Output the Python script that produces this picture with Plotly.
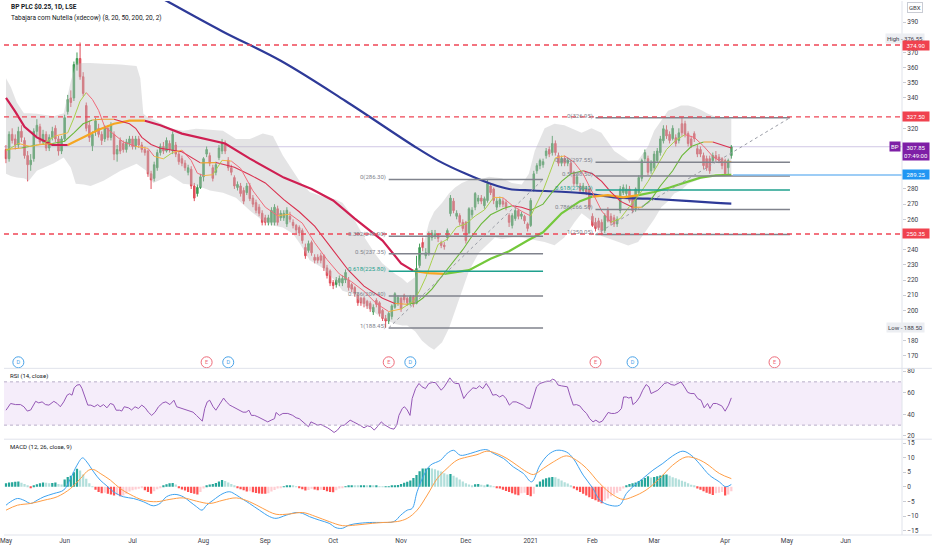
import pandas as pd
import plotly.graph_objects as go

# ---------------- calendar ----------------
uk_holidays = ["2020-05-08", "2020-05-25", "2020-08-31", "2020-12-25", "2020-12-28",
               "2021-01-01", "2021-04-02", "2021-04-05", "2021-05-03", "2021-05-31"]
trading_days = [d for d in pd.bdate_range("2020-05-01", "2021-06-30")
                if d.strftime("%Y-%m-%d") not in uk_holidays]
n_bars = 236
bar_x = list(range(n_bars))
day_pos = {d.strftime("%Y-%m-%d"): i for i, d in enumerate(trading_days)}

# ---------------- price data (GBX) ----------------
opens = [306, 300, 316, 313, 309, 318, 312, 302, 296, 300,
         318, 321, 311, 316, 307, 314, 320, 313, 305, 313,
         331, 340, 340, 362, 366, 354, 335, 322, 308.5, 318,
         320, 316, 313, 320, 314, 316, 303, 312, 310, 306,
         310, 313, 308, 313, 309, 306, 305, 290, 287, 294,
         304, 308, 305, 310, 305, 309, 303, 300, 297, 291,
         293, 282, 277, 281, 288, 303, 302, 294, 291, 300.7,
         305, 310, 299, 294, 287.5, 281, 282, 279, 277.6, 282,
         274, 271, 268, 264, 261, 258, 258, 258, 267, 261,
         261, 257, 262, 258, 256, 254.6, 252.6, 241.5, 239.5, 244.7,
         235, 235, 236, 236, 228, 226, 218.4, 217, 218.4, 218,
         220, 220, 217, 215, 210, 208, 208, 206, 204.6, 199,
         206.6, 205, 200, 194.7, 193, 196, 202, 205, 208, 210,
         208, 205, 209, 204.6, 229.6, 244.7, 236, 237.5, 248, 249,
         250, 244.7, 243, 248, 263.8, 272, 262, 262.5, 258, 258,
         251, 263, 268, 272, 274, 269, 272.4, 282, 280, 268,
         270, 272, 271, 262.5, 256, 260.5, 265.8, 262, 262, 257,
         256, 280, 292, 295.4, 296, 302, 306, 304, 310, 302,
         297, 300, 297, 297, 291, 283.5, 282, 279, 280, 280,
         262, 258, 259, 258, 252.6, 265.8, 262, 261, 257, 265.8,
         277.6, 277, 280, 274, 267, 277.6, 287, 300, 300, 292,
         294, 298.7, 304, 311.8, 319, 316, 313.2, 313.8, 312, 323,
         323, 316.5, 313, 316.5, 306.6, 306, 302, 300, 300, 298.7,
         302, 301, 300, 298.7, 294, 302]
highs = [309, 318, 320, 316, 321, 322, 314, 305, 303, 320,
         326, 323, 319, 318, 316, 321, 322, 315, 315, 329,
         342, 345, 364, 370, 376.55, 357, 337, 325, 318, 327,
         323, 318, 322, 322, 324, 318, 309, 314, 312, 313,
         315, 315, 315, 315, 311, 308, 306, 292, 298, 306,
         310, 311, 314, 312, 318, 311, 305, 302, 299, 296,
         295, 284, 283, 290, 301, 308, 304, 296, 298, 309,
         313, 312, 301, 296, 289, 285, 284, 281, 284, 284,
         276, 273, 270, 266, 263, 263, 268, 270, 269, 266,
         266, 268, 265, 260, 257, 256, 254, 244, 246, 246,
         237, 237, 238, 237, 230, 227, 220, 222, 223, 223,
         227, 222, 218, 216, 211, 209, 209, 207, 206, 204,
         208, 206, 201, 197, 199, 204, 212, 210, 209, 211,
         209, 210, 210, 236, 244, 248, 241, 252, 253, 253,
         251, 246, 245, 254, 276, 274, 266, 264, 260, 259,
         268, 268, 278, 276, 276, 275, 286.3, 284, 281, 274,
         275, 274, 273, 264, 264, 268, 267, 265, 263, 258,
         274, 292, 297, 300, 300, 307, 308, 315, 312, 304,
         302, 302, 301, 299, 292, 290, 284, 284, 282, 281,
         264, 261, 261, 260, 264, 268, 264, 263, 262, 282,
         283, 283, 282, 276, 281, 289, 300, 306, 302, 299,
         305, 307, 315, 322, 322, 318, 322, 316, 320, 326.95,
         325, 318, 315, 318, 309, 308, 304, 302, 302, 304,
         305, 303, 301, 300, 300, 309]
lows = [297, 298, 310, 306, 307, 311, 300, 285, 292, 298,
        315, 309, 309, 305, 305, 312, 311, 302, 303, 311,
        329, 334, 338, 358, 352, 341, 318, 311, 305, 315,
        314, 309, 311, 312, 312, 299, 298, 303, 304, 304,
        308, 306, 306, 307, 304, 302, 288, 280, 285, 292,
        302, 303, 304, 304, 303, 301, 296, 295, 292, 289,
        280, 272, 275, 280, 285, 301, 295, 285, 289, 299,
        303, 303, 292, 289, 280, 279, 275, 270, 276, 272,
        268, 264, 262, 256, 256, 256, 256, 256, 256, 259,
        259, 255, 258, 254, 251, 249, 244, 234, 238, 236,
        231, 231, 231, 226, 221, 216, 214, 215, 216, 216,
        218, 213, 212, 209, 203, 203, 202, 201, 199, 197,
        202, 196, 193, 188.5, 191, 194, 201, 203, 199, 205,
        203, 203, 202, 204, 228, 239, 234, 236, 246, 247,
        245, 241, 240, 246, 262, 264, 260, 256, 252, 244,
        250, 261, 266, 270, 270, 267, 271, 276, 270, 266,
        268, 268, 266, 255, 254, 259, 260, 260, 257, 252,
        255, 278, 290, 293, 294, 300, 301, 302, 302, 295,
        295, 295, 295, 290, 282, 282, 277, 277, 276, 266,
        255, 252, 253, 250.05, 251, 258, 256, 255, 255, 264,
        276, 275, 271, 264, 265, 276, 285, 298, 289, 290,
        292, 297, 302, 310, 313, 310, 312, 308, 310, 315,
        314, 308, 307, 311, 301, 301, 293, 292, 290, 297,
        298, 297, 293, 289, 289.3, 300]
closes = [300, 316, 312, 309, 318, 314, 302, 296, 299, 318,
          322, 311, 316, 307, 314, 318, 313, 305, 313, 327,
          339, 337, 362, 366, 354, 343, 320, 314, 316, 325,
          316, 312, 320, 314, 322, 303, 306, 305, 306, 311,
          313, 308, 313, 309, 306, 304, 290, 286, 296, 304,
          308, 305, 312, 306, 316, 303, 298, 297, 294, 294,
          282, 274, 281, 288, 300, 306, 297, 287, 296, 307,
          310, 305, 294, 291, 282, 283, 277, 272, 282, 273.6,
          270, 266, 264, 258, 258, 261, 266, 268, 258, 264,
          264, 266, 260, 256, 253, 251, 246, 236, 244, 238,
          233, 233, 233, 228, 223, 218, 216.4, 220, 221, 221,
          225, 215, 214, 211, 205, 205, 204.6, 203, 201, 202,
          204, 198, 194.7, 193, 198, 203, 211, 208.5, 201, 207,
          205, 209, 204, 227.6, 241.4, 241.4, 238, 250.6, 251, 250.5,
          247.5, 242.8, 242, 252.6, 274, 265.8, 264, 258, 254, 246,
          267, 266, 277, 274, 272, 273.6, 283.5, 277.6, 272.4, 272,
          273, 270, 268, 258, 262.5, 265.8, 262, 263.5, 259, 254,
          272.4, 290, 295.4, 298.7, 298, 305, 303, 310, 304, 297,
          300, 297, 299, 291, 283.5, 288, 279, 282, 278, 268,
          256, 254, 254.6, 252.6, 262.5, 259, 258, 257, 260, 280,
          281, 280, 272.4, 265.8, 280, 287.5, 298.7, 304, 291, 297,
          303, 305, 313, 319.7, 315, 312, 320, 310, 317, 317,
          316, 310, 308.6, 313.2, 303, 303, 295.4, 294, 292, 302,
          300, 299, 295.4, 290, 298.7, 307.85]

# ---------------- indicator readings (from the picture) ----------------
bb_x = [0, 1.6, 3.5, 5.8, 7.4, 10, 15.5, 18.7, 21, 22.6, 25.2, 27.4, 31.6, 37.1, 42.3, 43.5, 44.5, 45.5, 47.7, 53.2,
        57.4, 61.6, 66.1, 70.3, 74.5, 79, 83.2, 86.5, 89.7, 92.9, 95.2, 98.4, 102.6, 106.8, 109, 112.3, 115.5, 119.7, 121.9, 126.1,
        128.4, 130, 132.6, 134.8, 137.1, 138.7, 141.3, 143.5, 145.5, 147.7, 150, 153.2, 156.5, 158.4, 160.6, 163.9, 167.1, 169.4, 171.3, 174.5,
        177.7, 180.9, 184.2, 186.5, 189.7, 192.9, 197.1, 201.6, 204.8, 208, 210, 212.3, 214.5, 216.5, 218.7, 221, 222.9, 225.2, 227.4, 229.4,
        231.6, 233.9, 235]
bb_upper = [353, 347, 337, 330, 330, 329.6, 328, 330, 351, 362.5, 363, 363, 362.5, 362, 361, 353, 329.6, 328, 326, 320,
            318.4, 319.7, 319, 318.4, 313, 313, 316.5, 315, 302, 292, 285, 278, 275, 273, 271, 262, 250, 237, 231, 224,
            221, 218, 222, 240, 258, 265, 271, 277, 281, 284, 286, 286, 288, 287.5, 287, 284, 283, 290, 305, 320,
            323, 322, 319, 317, 320, 317, 305, 298.7, 299, 308, 318.4, 325, 331.6, 333, 335, 335, 334, 332, 329.6, 328,
            327, 327, 326]
bb_lower = [290, 288.5, 287.5, 287, 285.5, 292, 297, 300.7, 294, 283.5, 283, 282, 285.5, 292, 296.7, 295, 294, 292, 284, 289,
            283.5, 282.5, 279, 277.6, 274.3, 265.8, 259, 256, 254.6, 250.6, 244, 233, 228, 219, 213, 211, 204, 198, 195, 191,
            190, 190, 186, 180, 176, 174, 179, 188, 200, 213, 226, 238, 244, 248, 247, 248, 248, 247, 246, 245,
            243, 248, 258, 264, 259, 249, 246, 242.8, 245, 254.6, 260, 268, 272, 277, 279, 283.5, 285, 286.8, 288, 290,
            290, 289, 288]

ma8_x = [0, 4, 8, 12, 16, 20, 22, 24, 26, 28, 30, 32, 35, 38, 42, 46, 48, 51, 54, 57, 60, 62, 64, 67, 70, 73, 76, 80, 84, 88,
         92, 96, 100, 104, 108, 112, 116, 120, 124, 128, 132, 134, 136, 138, 140, 143, 146, 149, 152, 155, 158, 161, 164, 167, 170,
         172, 174, 176, 178, 181, 184, 187, 190, 193, 196, 199, 202, 205, 208, 211, 214, 217, 220, 223, 226, 229, 232, 235]
ma8_y = [305, 310, 308, 309.8, 315, 317, 326.8, 337.9, 343.5, 339, 331.8, 320.8, 316, 311, 308.1, 306.8, 301.5, 299.9, 304.1, 305.6,
         298.8, 290.4, 288.8, 289.4, 298.9, 298.4, 293.6, 278.8, 268, 262.4, 263.4, 257.5, 244.6, 233.5, 224, 218.8, 212.6, 204.5, 199.2, 200.9,
         206.1, 212.9, 221.7, 232.9, 243.5, 246.9, 254.9, 257, 262.2, 266.2, 274.5, 274.3, 269.2, 265.4, 262.2, 270.3, 278.9, 289.6, 300.5, 301.8,
         297.7, 289.9, 278.2, 265.5, 258.1, 260.5, 268.4, 275.8, 284.9, 295.8, 306, 312.2, 315.8, 314, 308.3, 301.4, 297.6, 298.1]

ma20_x = [0, 5, 10, 15, 19, 22, 25, 28, 31, 35, 40, 42, 44, 47, 50, 57, 63, 68, 74, 79, 84, 90, 95, 100, 106, 111, 116, 122, 126, 130,
          133, 135, 138, 141, 145, 148, 151, 154, 157, 161, 164, 167, 170, 174, 177, 180, 183, 187, 190, 193, 196, 199, 203, 206, 209,
          212, 216, 219, 222, 226, 229, 232, 235]
ma20_y = [306, 307, 309, 310, 311.5, 317, 323, 325.5, 326, 326, 323, 320, 314, 309.3, 306.8, 304.6, 297.2, 297.4, 294.3, 289.4,
          284, 273, 265, 255.5, 239.5, 226.3, 216, 208, 204.5, 204, 205, 208, 214, 222, 232, 240, 249, 257, 263, 267,
          269, 268, 266, 270, 278, 285, 290, 292, 290, 285, 278, 272, 268, 268, 273, 282, 292, 302, 308, 311, 311, 309, 307]

ma50_x = [0, 3, 6, 10, 15, 20, 25, 30, 35, 40, 45, 50, 57, 64, 71, 79, 90, 99, 106, 113, 122, 128, 132, 137, 142,
          150, 157, 163, 169, 174, 180, 186, 190, 195, 200, 205, 210, 215, 220, 225, 230, 235]
ma50_y = [340, 331, 321, 314, 309, 309, 314, 319, 323, 325, 325, 322, 316.5, 313.5, 310, 300, 287.5, 280, 272.4, 260.5, 246, 231, 226, 224.5, 224,
          226.5, 234, 239, 246, 251.5, 264, 272, 275, 276, 274.5, 276, 278, 281, 284.5, 287.5, 289, 289.3]

ma200_x = [45, 52, 70, 89, 110, 132, 140, 149, 157, 163, 171, 187, 197, 208, 219, 229, 235]
ma200_y = [412, 404, 384, 364.5, 338, 308.5, 298.7, 290, 283.5, 280, 279, 277.3, 274.5, 273.6, 272.4, 271, 270.4]

rsi_x = [0, 1.5, 3.1, 4.7, 5.8, 6.9, 8, 9.6, 10.6, 11.7, 12.8, 13.9, 15.5, 16.6, 17.6, 18.7, 19.8, 20.6, 21.4, 22.1,
         23, 23.9, 24.6, 25.7, 26.5, 27.5, 28.6, 29.7, 30.5, 31.6, 32.7, 33.8, 34.8, 35.7, 36.8, 37.5, 38.3, 39.7, 40.7, 41.8,
         42.9, 44, 45.1, 46.1, 47.2, 48.3, 49.4, 50.8, 51.8, 53.1, 54.4, 55.3, 56.3, 57.4, 58.5, 59.6, 60.6, 61.7, 62.8, 63.6,
         64.4, 65.2, 66, 67.1, 68, 69, 69.8, 70.5, 71.4, 72.5, 73.5, 74.6, 75.7, 76.8, 77.8, 78.7, 79.5, 80.5, 81.6, 82.7,
         83.8, 84.8, 85.9, 87, 87.5, 88.6, 89.7, 91.3, 92.9, 94, 95, 96.1, 97.2, 98, 98.8, 99.9, 101, 102, 103.1, 104.2,
         105.3, 106.3, 107.4, 108.5, 109.6, 110.6, 111.5, 112.6, 113.7, 115, 116, 117.1, 118.2, 119.3, 120.3, 121.6, 122.5, 123.6, 124.6, 125.7,
         126.6, 127.3, 128.4, 129.1, 130, 130.9, 131.6, 132.7, 133.8, 134.8, 135.9, 137, 138.1, 139.1, 140.2, 141, 142, 142.9, 143.8, 144.8,
         145.6, 146.7, 147.4, 148.3, 149.4, 150.4, 151.3, 152.4, 153.4, 154.5, 155.6, 156.7, 157.7, 158.8, 159.9, 161, 162, 163.1, 164.2, 165.3,
         166.3, 167.6, 168.7, 169.8, 170.9, 171.9, 173, 174.1, 175.2, 176.2, 177.1, 177.9, 178.9, 180, 181.1, 181.9, 182.7, 183.8, 184.8, 185.9,
         187, 188.1, 189.1, 190.2, 191.1, 192.2, 193.2, 194.3, 195.1, 196.1, 197.2, 198.3, 199.4, 200.1, 201, 201.8, 202.6, 203.1, 204.2, 205.3,
         206.3, 207.4, 208.3, 209, 210.1, 211.2, 212.3, 213.3, 214.4, 215.5, 216.6, 217.6, 218.7, 219.8, 220.9, 221.9, 223, 224.1, 225.2, 226.2,
         227.3, 228.1, 229.1, 230.2, 231.1, 231.9, 233, 234.1, 235]
rsi_y = [43.8, 50, 49, 49, 47, 43, 44, 52, 50.6, 51.5, 49, 48.5, 52, 50, 47, 51.5, 57.7, 59, 57.7, 64.5,
         67, 67.5, 64, 56, 48.5, 48.5, 47, 49, 47, 49, 46, 50, 49, 43.8, 43.8, 43, 47, 46, 44, 47,
         45.4, 48.5, 46, 42, 39, 42, 47, 50.6, 51.5, 49, 53, 47, 46, 44.8, 44, 43, 42, 39, 36, 33.7,
         45.4, 51.5, 53, 47, 43.8, 48.5, 53, 55, 51.5, 48.5, 47, 45.4, 43.8, 42, 42, 43.8, 39, 39, 37.7, 36,
         34.6, 33, 34.6, 36, 41.7, 39, 40.8, 40.8, 39, 36.8, 36, 33, 30, 28.5, 33, 31.5, 30, 30.6, 29.4, 27.5,
         25.4, 23.2, 25.4, 29.4, 30, 32.5, 34.6, 33, 31.5, 29.4, 27.5, 29.4, 28.5, 25.4, 28.5, 33, 30.6, 28.5, 27, 26.3,
         30, 39, 45.4, 47, 44, 39, 54.6, 63.8, 68.5, 65.4, 63.8, 68.5, 69.4, 69.4, 65.4, 62.3, 65.4, 70, 73.7, 70,
         68.5, 68.5, 62.3, 54.6, 59.2, 62.3, 64.5, 63.8, 66.3, 63.8, 68.5, 63.8, 57.7, 58.3, 56, 57.7, 54.6, 48.5, 51.5, 51.5,
         50, 48.5, 46, 45.4, 56, 65.4, 68.5, 69.4, 70.6, 70.6, 72.5, 71.5, 67, 66.3, 65.4, 65.4, 57.7, 48.5, 49, 47.8,
         43.8, 40.8, 36, 33, 34.6, 32.5, 33.7, 39, 41.7, 40.8, 40.8, 42, 45.4, 56, 56, 55, 56, 49, 51.5, 56,
         62.3, 67.5, 65.4, 59.2, 60.8, 62.3, 65.4, 68.5, 69.4, 67.5, 66.9, 68.5, 70, 65.4, 60.2, 59.2, 59.2, 54.6, 53, 46,
         50, 45.4, 50, 50, 48.5, 47.8, 42.9, 48.5, 55.2]

macd_x = [0, 1.5, 3.7, 5.8, 8, 10.1, 12.3, 15.5, 18.7, 20.9, 23, 24.8, 26.2, 28.4, 30.5, 32.7, 34.8, 38, 41.3, 44.5,
          47.7, 49.9, 52, 54.7, 57.4, 59.6, 61.7, 63.5, 65, 67.1, 70.3, 72.5, 74.6, 76.8, 78.9, 82.1, 85.4, 87.5, 90.8, 94,
          96.1, 98.3, 101.5, 104.7, 106.9, 109, 111.2, 114.4, 118.7, 121.4, 125.7, 127.9, 130, 131.6, 133.2, 135.4, 137.5, 140.8, 142.9, 145,
          147.2, 150.4, 153.7, 155.8, 158, 161.2, 164.4, 167.6, 170.3, 173, 175.7, 178.4, 181.6, 183.8, 187, 190.2, 192.4, 195.6, 198.8, 201,
          203.1, 206.3, 209.6, 212.8, 216, 219.3, 222, 224.6, 227.9, 231.1, 233.2, 235]
macd_y = [-6.3, -5.1, -4, -4.6, -5.7, -4.6, -3.4, -2.3, -1.1, 2.8, 7.4, 9.9, 8.5, 5.1, 2.3, 0.3, -1.7, -3.4, -4, -5.1,
          -6.5, -5.7, -3.4, -2.6, -3.4, -5.1, -6.8, -8, -6.3, -4.6, -2.3, -1.7, -2.8, -4.3, -5.7, -8, -10.2, -10.8, -9.7, -8.8,
          -9.1, -10.2, -11.4, -12.5, -14, -14.2, -13.1, -12.5, -12.2, -12.2, -11.9, -9.7, -8, -7.4, -1.7, 4, 7.4, 9.1, 11.4, 12.5,
          10.8, 11.4, 12.5, 12.7, 11.4, 9.7, 6.8, 4.6, 1.7, 7.4, 11, 12.5, 11.9, 9.7, 4, -0.6, -4.6, -6.3, -6.3, -2.3,
          0, 2.8, 5.7, 8, 10.6, 12.2, 10.8, 8, 4, 1.7, 0, 0.8]
signal_x = [0, 3.7, 8, 12.3, 16.6, 20.9, 24.1, 26.8, 28.4, 30.5, 33.8, 37, 40.2, 44.5, 48.8, 53.1, 57.4, 61.7, 66, 70.3,
            74.6, 78.9, 83.2, 87.5, 91.8, 96.1, 100.4, 104.7, 109, 113.3, 118.7, 122.5, 126.8, 130, 133.2, 136.5, 139.7, 142.9, 146.1, 149.4,
            152.6, 155.8, 159, 162.3, 165.5, 168.7, 170.9, 174.1, 177.3, 181.6, 184.8, 188.1, 192.4, 196.7, 199.9, 203.1, 207.4, 211.7, 216, 220.3,
            223.5, 226.8, 231.1, 235]
signal_y = [-8, -6.3, -5.7, -4.6, -3.4, -0.6, 2.8, 5.7, 5.9, 4.6, 2.3, -0.6, -2.6, -4.6, -5.1, -4.3, -3.8, -4.9, -5.7, -4.6,
            -3.8, -5.1, -7.4, -9.4, -9.3, -8.8, -10.2, -11.9, -13.3, -13.1, -12.5, -12.2, -11.9, -10.8, -8, -2.8, 2.8, 6.3, 9.1, 10.2,
            11, 12.2, 11.4, 9.7, 7.4, 5.1, 4.2, 6.3, 8.5, 10.6, 9.1, 6.3, 1.1, -2.8, -4.3, -3.4, -1.1, 2.8, 7.4, 10.2,
            9.7, 8, 4.6, 2.8]
macd_hist = [1.2, 1.5, 1.6, 1.7, 1.8, 1.4, 1.0, 0.3, -0.3, 0.5,
             0.9, 1.2, 1.5, 1.4, 1.2, 1.3, 1.5, 1.0, 0.8, 2.5,
             3.4, 3.8, 5.0, 6.2, 5.6, 4.2, 2.8, 1.2, 0.2, -1.0,
             -1.8, -2.2, -2.0, -2.4, -2.6, -3.0, -2.6, -3.2, -3.0, -2.4,
             -1.6, -1.2, -0.9, -0.7, -0.5, -1.2, -1.8, -2.4, -1.5, -0.8,
             -0.2, 0.5, 0.9, 1.2, 1.3, 0.8, -0.5, -0.9, -1.3, -1.8,
             -2.1, -2.4, -2.6, -1.8, -0.6, 0.4, 0.8, 1.0, 1.3, 1.8,
             2.3, 2.0, 1.5, 1.0, 0.5, -0.4, -0.8, -1.2, -1.6, -1.5,
             -1.9, -2.1, -2.3, -2.4, -2.4, -2.2, -1.6, -1.1, -0.6, -0.2,
             0.2, 0.4, 0.4, 0.3, 0.1, -0.3, -0.8, -1.3, -1.1, -0.7,
             -0.9, -1.2, -1.0, -1.1, -1.5, -1.8, -1.9, -1.2, -0.6, -0.3,
             0.2, 0.4, 0.5, 0.4, 0.3, 0.4, 0.4, 0.3, 0.4, 0.3,
             0.3, 0.2, 0.1, 0.1, 0.2, 0.3, 0.3, 0.6, 1.0, 1.4,
             1.7, 2.2, 3.0, 4.0, 5.3, 6.3, 6.3, 6.5, 6.3, 6.0,
             5.6, 5.2, 4.6, 4.2, 4.4, 3.8, 3.2, 2.5, 1.8, 1.2,
             0.8, 0.5, 0.9, 1.0, 0.7, 0.5, 0.8, 0.5, 0.2, -0.3,
             -0.6, -1.0, -1.4, -1.8, -2.2, -2.6, -2.9, -2.2, -2.0, -2.8,
             -3.2, -2.4, 0.8, 1.8, 2.5, 2.9, 3.2, 3.4, 3.3, 2.8,
             2.2, 1.6, 1.1, 0.5, -0.6, -1.2, -1.8, -2.4, -3.0, -3.6,
             -4.2, -4.6, -5.1, -5.6, -4.8, -4.0, -3.2, -2.6, -2.0, -1.4,
             -0.6, 0.5, 1.0, 1.2, 1.5, 2.0, 2.5, 3.0, 3.6, 3.2,
             3.4, 3.6, 3.9, 4.1, 4.2, 3.8, 3.3, 2.9, 2.5, 2.1,
             1.7, 1.2, 0.7, 0.3, -0.6, -1.0, -1.5, -2.0, -2.4, -2.8,
             -2.2, -2.0, -1.8, -3.0, -2.6, -1.5]

# ---------------- drawings / markers ----------------
event_dates = ["2020-05-07", "2020-08-04", "2020-08-13", "2020-10-27",
               "2020-11-05", "2021-02-02", "2021-02-18", "2021-04-27"]
event_kinds = ["D", "E", "D", "E", "D", "E", "D", "E"]
hline_prices = [374.90, 327.50, 250.35]
last_price = 307.85
countdown = "07:49:00"
blue_line_price = 289.25
session_high = 376.55
session_low = 188.50
fib_ratios = ["0", "0.382", "0.5", "0.618", "0.786", "1"]
fib1_prices = [286.30, 248.90, 237.35, 225.80, 209.40, 188.45]
fib2_prices = [326.95, 297.55, 288.50, 279.40, 266.50, 250.05]
price_ticks = [170, 180, 200, 210, 220, 230, 240, 260, 270, 280, 320, 340, 350, 360, 370, 390]

# ---------------- style ----------------
FONT = "Roboto, Arial, sans-serif"
UP, DOWN = "#3f9b55", "#df4f5b"
GREY_FIB, TEAL_FIB = "#80838d", "#1fa08e"
RED_LINE = "#ef4656"
X_RANGE = [-0.65, 290.3]
PRICE_RANGE = [161.8, 403.9]
D_PRICE = [0.3121, 1.0]
D_RSI = [0.1794, 0.3121]
D_MACD = [0.0, 0.1794]
fib1_span = [124, 174]
fib2_span = [191, 254]

fig = go.Figure()

# Bollinger band fill
fig.add_trace(go.Scatter(x=bb_x, y=bb_upper, mode="lines", line=dict(width=0, color="rgba(0,0,0,0)"),
                         hoverinfo="skip", yaxis="y"))
fig.add_trace(go.Scatter(x=bb_x, y=bb_lower, mode="lines", line=dict(width=0, color="rgba(0,0,0,0)"),
                         fill="tonexty", fillcolor="rgba(190,190,194,0.42)", hoverinfo="skip", yaxis="y"))

# candles
fig.add_trace(go.Candlestick(x=bar_x, open=opens, high=highs, low=lows, close=closes,
                             increasing=dict(line=dict(color=UP, width=1), fillcolor=UP),
                             decreasing=dict(line=dict(color=DOWN, width=1), fillcolor=DOWN),
                             whiskerwidth=0, hoverinfo="skip", yaxis="y"))


def add_runs(xs, ys, color_of, width):
    runs = []
    for i in range(1, len(xs)):
        c = color_of(xs[i - 1], ys[i - 1], xs[i], ys[i])
        if runs and runs[-1][0] == c:
            runs[-1][1].append(xs[i])
            runs[-1][2].append(ys[i])
        else:
            runs.append([c, [xs[i - 1], xs[i]], [ys[i - 1], ys[i]]])
    for c, rx, ry in runs:
        fig.add_trace(go.Scatter(x=rx, y=ry, mode="lines", line=dict(color=c, width=width),
                                 hoverinfo="skip", yaxis="y"))


def slope_colors(up, down, flat, thr):
    def f(x0, y0, x1, y1):
        s = (y1 - y0) / (x1 - x0)
        if s > thr:
            return up
        if s < -thr:
            return down
        return flat
    return f


# MA200
fig.add_trace(go.Scatter(x=ma200_x, y=ma200_y, mode="lines", line=dict(color="#2e3a98", width=2.2, shape="spline"),
                         hoverinfo="skip", yaxis="y"))

# MA50 (thick, coloured by trend phase)
ma50_phases = [(0, 20, "#cf1f52"), (20, 45, "#f5a623"), (45, 132, "#cf1f52"), (132, 142, "#f5a623"),
               (142, 190, "#74c83b"), (190, 205, "#f5a623"), (205, 999, "#74c83b")]


def ma50_color(x0, y0, x1, y1):
    m = (x0 + x1) / 2
    for a, b, c in ma50_phases:
        if a <= m < b:
            return c
    return "#74c83b"


add_runs(ma50_x, ma50_y, ma50_color, 2.2)
add_runs(ma20_x, ma20_y, slope_colors("#6cb83a", "#d9304f", "#f0a030", 0.25), 1.1)
add_runs(ma8_x, ma8_y, slope_colors("#a8cf4c", "#f06a7a", "#f5b342", 0.6), 1)

# fibonacci retracements
for span, prices in ((fib1_span, fib1_prices), (fib2_span, fib2_prices)):
    for r, p in zip(fib_ratios, prices):
        col = TEAL_FIB if r == "0.618" else GREY_FIB
        fig.add_trace(go.Scatter(x=span, y=[p, p], mode="lines", line=dict(color=col, width=1.5),
                                 hoverinfo="skip", yaxis="y"))
    fig.add_trace(go.Scatter(x=span, y=[prices[-1], prices[0]], mode="lines",
                             line=dict(color="#9a9da6", width=1, dash="dot"), hoverinfo="skip", yaxis="y"))

# events row
ev_x = [day_pos[d] for d in event_dates]
ev_col = ["#4aa3e8" if k == "D" else "#ee6b7a" for k in event_kinds]
fig.add_trace(go.Scatter(x=ev_x, y=[165.8] * len(ev_x), mode="markers+text", text=event_kinds,
                         textposition="middle center", textfont=dict(size=5.5, color=ev_col, family=FONT),
                         marker=dict(size=11, color="white", line=dict(color=ev_col, width=1)),
                         cliponaxis=False, hoverinfo="skip", yaxis="y"))

# RSI
fig.add_trace(go.Scatter(x=rsi_x, y=rsi_y, mode="lines", line=dict(color="#9457b5", width=1),
                         hoverinfo="skip", yaxis="y2"))

# MACD
hist_colors = []
for i, v in enumerate(macd_hist):
    prev = macd_hist[i - 1] if i > 0 else v
    if v >= 0:
        hist_colors.append("#26a69a" if v >= prev else "#b2dfdb")
    else:
        hist_colors.append("#ff5252" if v <= prev else "#ffcdd2")
fig.add_trace(go.Bar(x=bar_x, y=macd_hist, marker=dict(color=hist_colors, line=dict(width=0)), width=0.72,
                     hoverinfo="skip", yaxis="y3"))
fig.add_trace(go.Scatter(x=macd_x, y=macd_y, mode="lines", line=dict(color="#3ea2ef", width=1, shape="spline"),
                         hoverinfo="skip", yaxis="y3"))
fig.add_trace(go.Scatter(x=signal_x, y=signal_y, mode="lines", line=dict(color="#ff9d45", width=1, shape="spline"),
                         hoverinfo="skip", yaxis="y3"))

# ---------------- shapes ----------------
shapes = []
for p in hline_prices:
    shapes.append(dict(type="line", xref="paper", x0=0, x1=1, yref="y", y0=p, y1=p,
                       line=dict(color=RED_LINE, width=1.3, dash="5px,4px")))
shapes.append(dict(type="line", xref="paper", x0=0, x1=1, yref="y", y0=last_price, y1=last_price,
                   line=dict(color="rgba(150,130,200,0.45)", width=1), layer="below"))
shapes.append(dict(type="line", xref="x", x0=n_bars - 0.5, x1=X_RANGE[1], yref="y", y0=blue_line_price,
                   y1=blue_line_price, line=dict(color="#7cbcf3", width=1.5)))
# RSI band
shapes.append(dict(type="rect", xref="paper", x0=0, x1=1, yref="y2", y0=30, y1=70,
                   fillcolor="rgba(156,80,210,0.10)", line=dict(width=0), layer="below"))
for lvl in (30, 70):
    shapes.append(dict(type="line", xref="paper", x0=0, x1=1, yref="y2", y0=lvl, y1=lvl,
                       line=dict(color="#b9aec9", width=1, dash="dot")))
# panel separators
for yy in (D_RSI[1], D_MACD[1], 0):
    shapes.append(dict(type="line", xref="paper", x0=0, x1=932 / 902, yref="paper", y0=yy, y1=yy,
                       line=dict(color="#e0e3eb", width=1)))
shapes.append(dict(type="line", xref="paper", x0=1, x1=1, yref="paper", y0=0, y1=1,
                   line=dict(color="#e0e3eb", width=1)))

# ---------------- annotations ----------------
ann = []
ann.append(dict(xref="paper", yref="paper", x=5 / 902, y=1 - 6 / 535, xanchor="left", yanchor="middle",
                text="<b>BP PLC $0.25, 1D, LSE</b>", showarrow=False, font=dict(size=6.5, color="#131722")))
ann.append(dict(xref="paper", yref="paper", x=5 / 902, y=1 - 17 / 535, xanchor="left", yanchor="middle",
                text="Tabajara com Nutella (xdecow) (8, 20, 50, 200, 20, 2)", showarrow=False,
                font=dict(size=6.5, color="#131722")))
ann.append(dict(xref="paper", yref="paper", x=4 / 902, y=1 - 376 / 535, xanchor="left", yanchor="middle",
                text="RSI (14, close)", showarrow=False, font=dict(size=6, color="#131722")))
ann.append(dict(xref="paper", yref="paper", x=4 / 902, y=1 - 447 / 535, xanchor="left", yanchor="middle",
                text="MACD (12, 26, close, 9)", showarrow=False, font=dict(size=6, color="#131722")))

for span, prices in ((fib1_span, fib1_prices), (fib2_span, fib2_prices)):
    for r, p in zip(fib_ratios, prices):
        col = TEAL_FIB if r == "0.618" else GREY_FIB
        ann.append(dict(xref="x", yref="y", x=span[0], y=p, xanchor="right", yanchor="middle",
                        text=f"{r}({p:.2f})", showarrow=False, xshift=-1, yshift=2,
                        font=dict(size=6, color=col)))


def axis_box(y, text, bg, fc="white", yshift=0, yanchor="middle"):
    return dict(xref="paper", yref="y", x=1.0, y=y, xanchor="left", yanchor=yanchor, text=text,
                showarrow=False, bgcolor=bg, font=dict(size=6, color=fc), borderpad=1, width=24,
                align="center", yshift=yshift)


ann.append(dict(xref="paper", yref="y", x=925 / 902, y=session_high, xanchor="right", yanchor="middle",
                text=f"High - {session_high:.2f}", showarrow=False, bgcolor="#eceef2",
                font=dict(size=6, color="#3d404a"), borderpad=1, yshift=4.5))
ann.append(dict(xref="paper", yref="y", x=925 / 902, y=session_low, xanchor="right", yanchor="middle",
                text=f"Low - {session_low:.2f}", showarrow=False, bgcolor="#eceef2",
                font=dict(size=6, color="#3d404a"), borderpad=1))
for p in hline_prices:
    ann.append(axis_box(p, f"{p:.2f}", "#f0424f"))
ann.append(axis_box(blue_line_price, f"{blue_line_price:.2f}", "#2196f3"))
ann.append(axis_box(last_price, f"{last_price:.2f}<br>{countdown}", "#7e1fa6", yshift=4.5, yanchor="top"))
ann.append(dict(xref="paper", yref="y", x=1.0, y=last_price, xanchor="right", yanchor="middle", text="BP",
                showarrow=False, bgcolor="#7e1fa6", font=dict(size=6, color="white"), borderpad=1, xshift=-1))
ann.append(dict(xref="paper", yref="paper", x=915 / 902, y=1 - 7 / 535, xanchor="center", yanchor="middle",
                text="GBX", showarrow=False, bordercolor="#c9ccd4", borderwidth=1, borderpad=1,
                font=dict(size=6, color="#3d404a")))

# ---------------- axes ----------------
tick_vals, tick_text, prev = [], [], None
for i, d in enumerate(trading_days):
    key = (d.year, d.month)
    if key != prev:
        tick_vals.append(i)
        tick_text.append("2021" if (d.year == 2021 and d.month == 1) else d.strftime("%b"))
        prev = key

axis_font = dict(size=6.5, color="#3d404a", family=FONT)
yaxis_common = dict(side="right", anchor="x", showgrid=False, zeroline=False, showline=False,
                    ticks="outside", ticklen=3, tickcolor="#c9ccd4", tickfont=axis_font, fixedrange=True)

fig.update_layout(
    width=932, height=550, margin=dict(l=0, r=30, t=0, b=15),
    paper_bgcolor="white", plot_bgcolor="white", showlegend=False,
    font=dict(family=FONT, size=7, color="#131722"),
    bargap=0.2,
    xaxis=dict(range=X_RANGE, tickvals=tick_vals, ticktext=tick_text, showgrid=False, zeroline=False,
               showline=False, ticks="", anchor="y3", rangeslider=dict(visible=False), tickfont=axis_font,
               ticklabeloverflow="allow"),
    yaxis=dict(domain=D_PRICE, range=PRICE_RANGE, tickvals=price_ticks, **yaxis_common),
    yaxis2=dict(domain=D_RSI, range=[17, 82.5], tickvals=[20, 40, 60, 80], **yaxis_common),
    yaxis3=dict(domain=D_MACD, range=[-16.5, 16.3], tickvals=[-15, -10, -5, 0, 5, 10, 15], **yaxis_common),
    shapes=shapes, annotations=ann,
)

fig.write_html("out.html", config={"displayModeBar": False},
               post_script="document.body.style.margin='0';document.body.style.padding='0';")
